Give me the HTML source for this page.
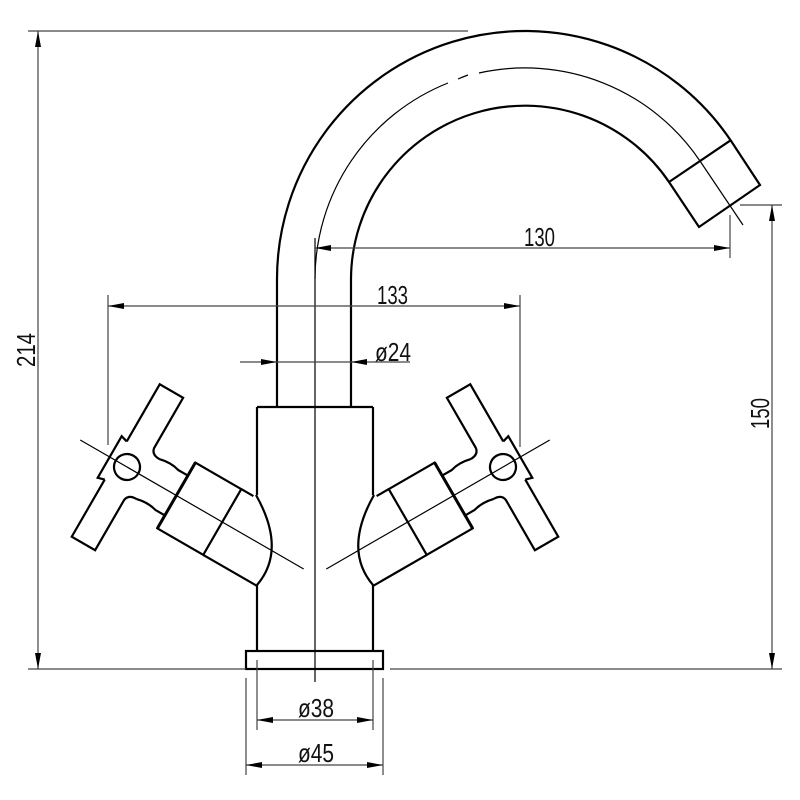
<!DOCTYPE html>
<html><head><meta charset="utf-8"><style>
html,body{margin:0;padding:0;background:#fff;}
svg{display:block;}
text{font-family:"Liberation Sans",sans-serif;font-size:26px;fill:#111;}
</style></head><body>
<svg width="800" height="800" viewBox="0 0 800 800" xmlns="http://www.w3.org/2000/svg">
<defs>
<g id="handle">
  <g transform="translate(127,467) rotate(30)" fill="none" stroke="#000" stroke-width="2.2">
    <line x1="-54" y1="0" x2="204" y2="0" stroke-width="1.2"/>
    <path d="M-13,-22 L-13,-88 L14,-88 L14,-30 Q15,-23 24,-23"/>
    <path d="M-13,22 L-13,88 L14,88 L14,30 Q15,23 24,23"/>
    <path d="M-13,-22 L-20,-24 L-20,24 L-13,22"/>
    <circle cx="0" cy="0" r="13"/>
    <path d="M24,-23 Q36,-26 46,-23 L57,-23"/>
    <path d="M24,23 Q36,20 46,23 L57,23"/>
    <rect x="57" y="-38" width="53" height="76"/>
    <line x1="57" y1="-38" x2="57" y2="38" stroke-width="3"/>
    <line x1="110" y1="-38" x2="124" y2="-38"/>
    <line x1="110" y1="38" x2="172" y2="38"/>
  </g>
  <path d="M256,495 Q287,550 257,585" fill="none" stroke="#000" stroke-width="2.2"/>
  <line x1="257" y1="407" x2="257" y2="495" stroke="#000" stroke-width="2.2"/>
  <line x1="257" y1="585" x2="257" y2="651" stroke="#000" stroke-width="2.2"/>
</g>
</defs>

<use href="#handle"/>
<use href="#handle" transform="translate(630,0) scale(-1,1)"/>

<g fill="none" stroke="#000" stroke-width="2.2">
  <line x1="257" y1="407" x2="373" y2="407"/>
  <rect x="246" y="651" width="137" height="18"/>
  <path d="M277,407 L277,279 A248,248 0 0 1 730.6,140.3 L760,185 L699,227 L669,182 A174,174 0 0 0 351,279 L351,407"/>
  <line x1="669" y1="182" x2="730.6" y2="140.3"/>
</g>

<g fill="none" stroke="#000" stroke-width="1.2">
  <line x1="315" y1="238" x2="315" y2="682"/>
  <path d="M315,279 A211,211 0 0 1 448,83"/>
  <path d="M458,79 A211,211 0 0 1 468,75"/>
  <path d="M479,73 A211,211 0 0 1 700,161 L743,225"/>
</g>

<g fill="none" stroke="#444" stroke-width="1.2">
  <line x1="28" y1="31" x2="468" y2="31"/>
  <line x1="38" y1="31" x2="38" y2="669"/>
  <line x1="28" y1="669" x2="246" y2="669"/>
  <line x1="390" y1="669" x2="782" y2="669"/>
  <line x1="740" y1="205" x2="782" y2="205"/>
  <line x1="772" y1="205" x2="772" y2="669"/>
  <line x1="315" y1="248" x2="730" y2="248"/>
  <line x1="730" y1="215" x2="730" y2="258"/>
  <line x1="108" y1="306" x2="520" y2="306"/>
  <line x1="108" y1="295" x2="108" y2="445"/>
  <line x1="520" y1="295" x2="520" y2="447"/>
  <line x1="240" y1="362" x2="410" y2="362"/>
  <line x1="257" y1="660" x2="257" y2="730"/>
  <line x1="373" y1="660" x2="373" y2="730"/>
  <line x1="257" y1="720" x2="373" y2="720"/>
  <line x1="246" y1="678" x2="246" y2="775"/>
  <line x1="383" y1="678" x2="383" y2="775"/>
  <line x1="246" y1="765" x2="383" y2="765"/>
</g>

<g fill="#000" stroke="none">
  <polygon points="38,31 35,47 41,47"/>
  <polygon points="38,669 35,653 41,653"/>
  <polygon points="772,205 769,221 775,221"/>
  <polygon points="772,669 769,653 775,653"/>
  <polygon points="315,248 331,245 331,251"/>
  <polygon points="730,248 714,245 714,251"/>
  <polygon points="108,306 124,303 124,309"/>
  <polygon points="520,306 504,303 504,309"/>
  <polygon points="277,362 261,359 261,365"/>
  <polygon points="351,362 367,359 367,365"/>
  <polygon points="257,720 273,717 273,723"/>
  <polygon points="373,720 357,717 357,723"/>
  <polygon points="246,765 262,762 262,768"/>
  <polygon points="383,765 367,762 367,768"/>
</g>

<text x="524" y="246" textLength="31" lengthAdjust="spacingAndGlyphs">130</text>
<text x="377" y="304" textLength="31" lengthAdjust="spacingAndGlyphs">133</text>
<text x="375" y="361" textLength="36" lengthAdjust="spacingAndGlyphs">ø24</text>
<text x="298" y="717" textLength="36" lengthAdjust="spacingAndGlyphs">ø38</text>
<text x="298" y="762" textLength="36" lengthAdjust="spacingAndGlyphs">ø45</text>
<text transform="translate(35,367) rotate(-90)" textLength="34" lengthAdjust="spacingAndGlyphs">214</text>
<text transform="translate(769,429) rotate(-90)" textLength="31" lengthAdjust="spacingAndGlyphs">150</text>
</svg>
</body></html>
